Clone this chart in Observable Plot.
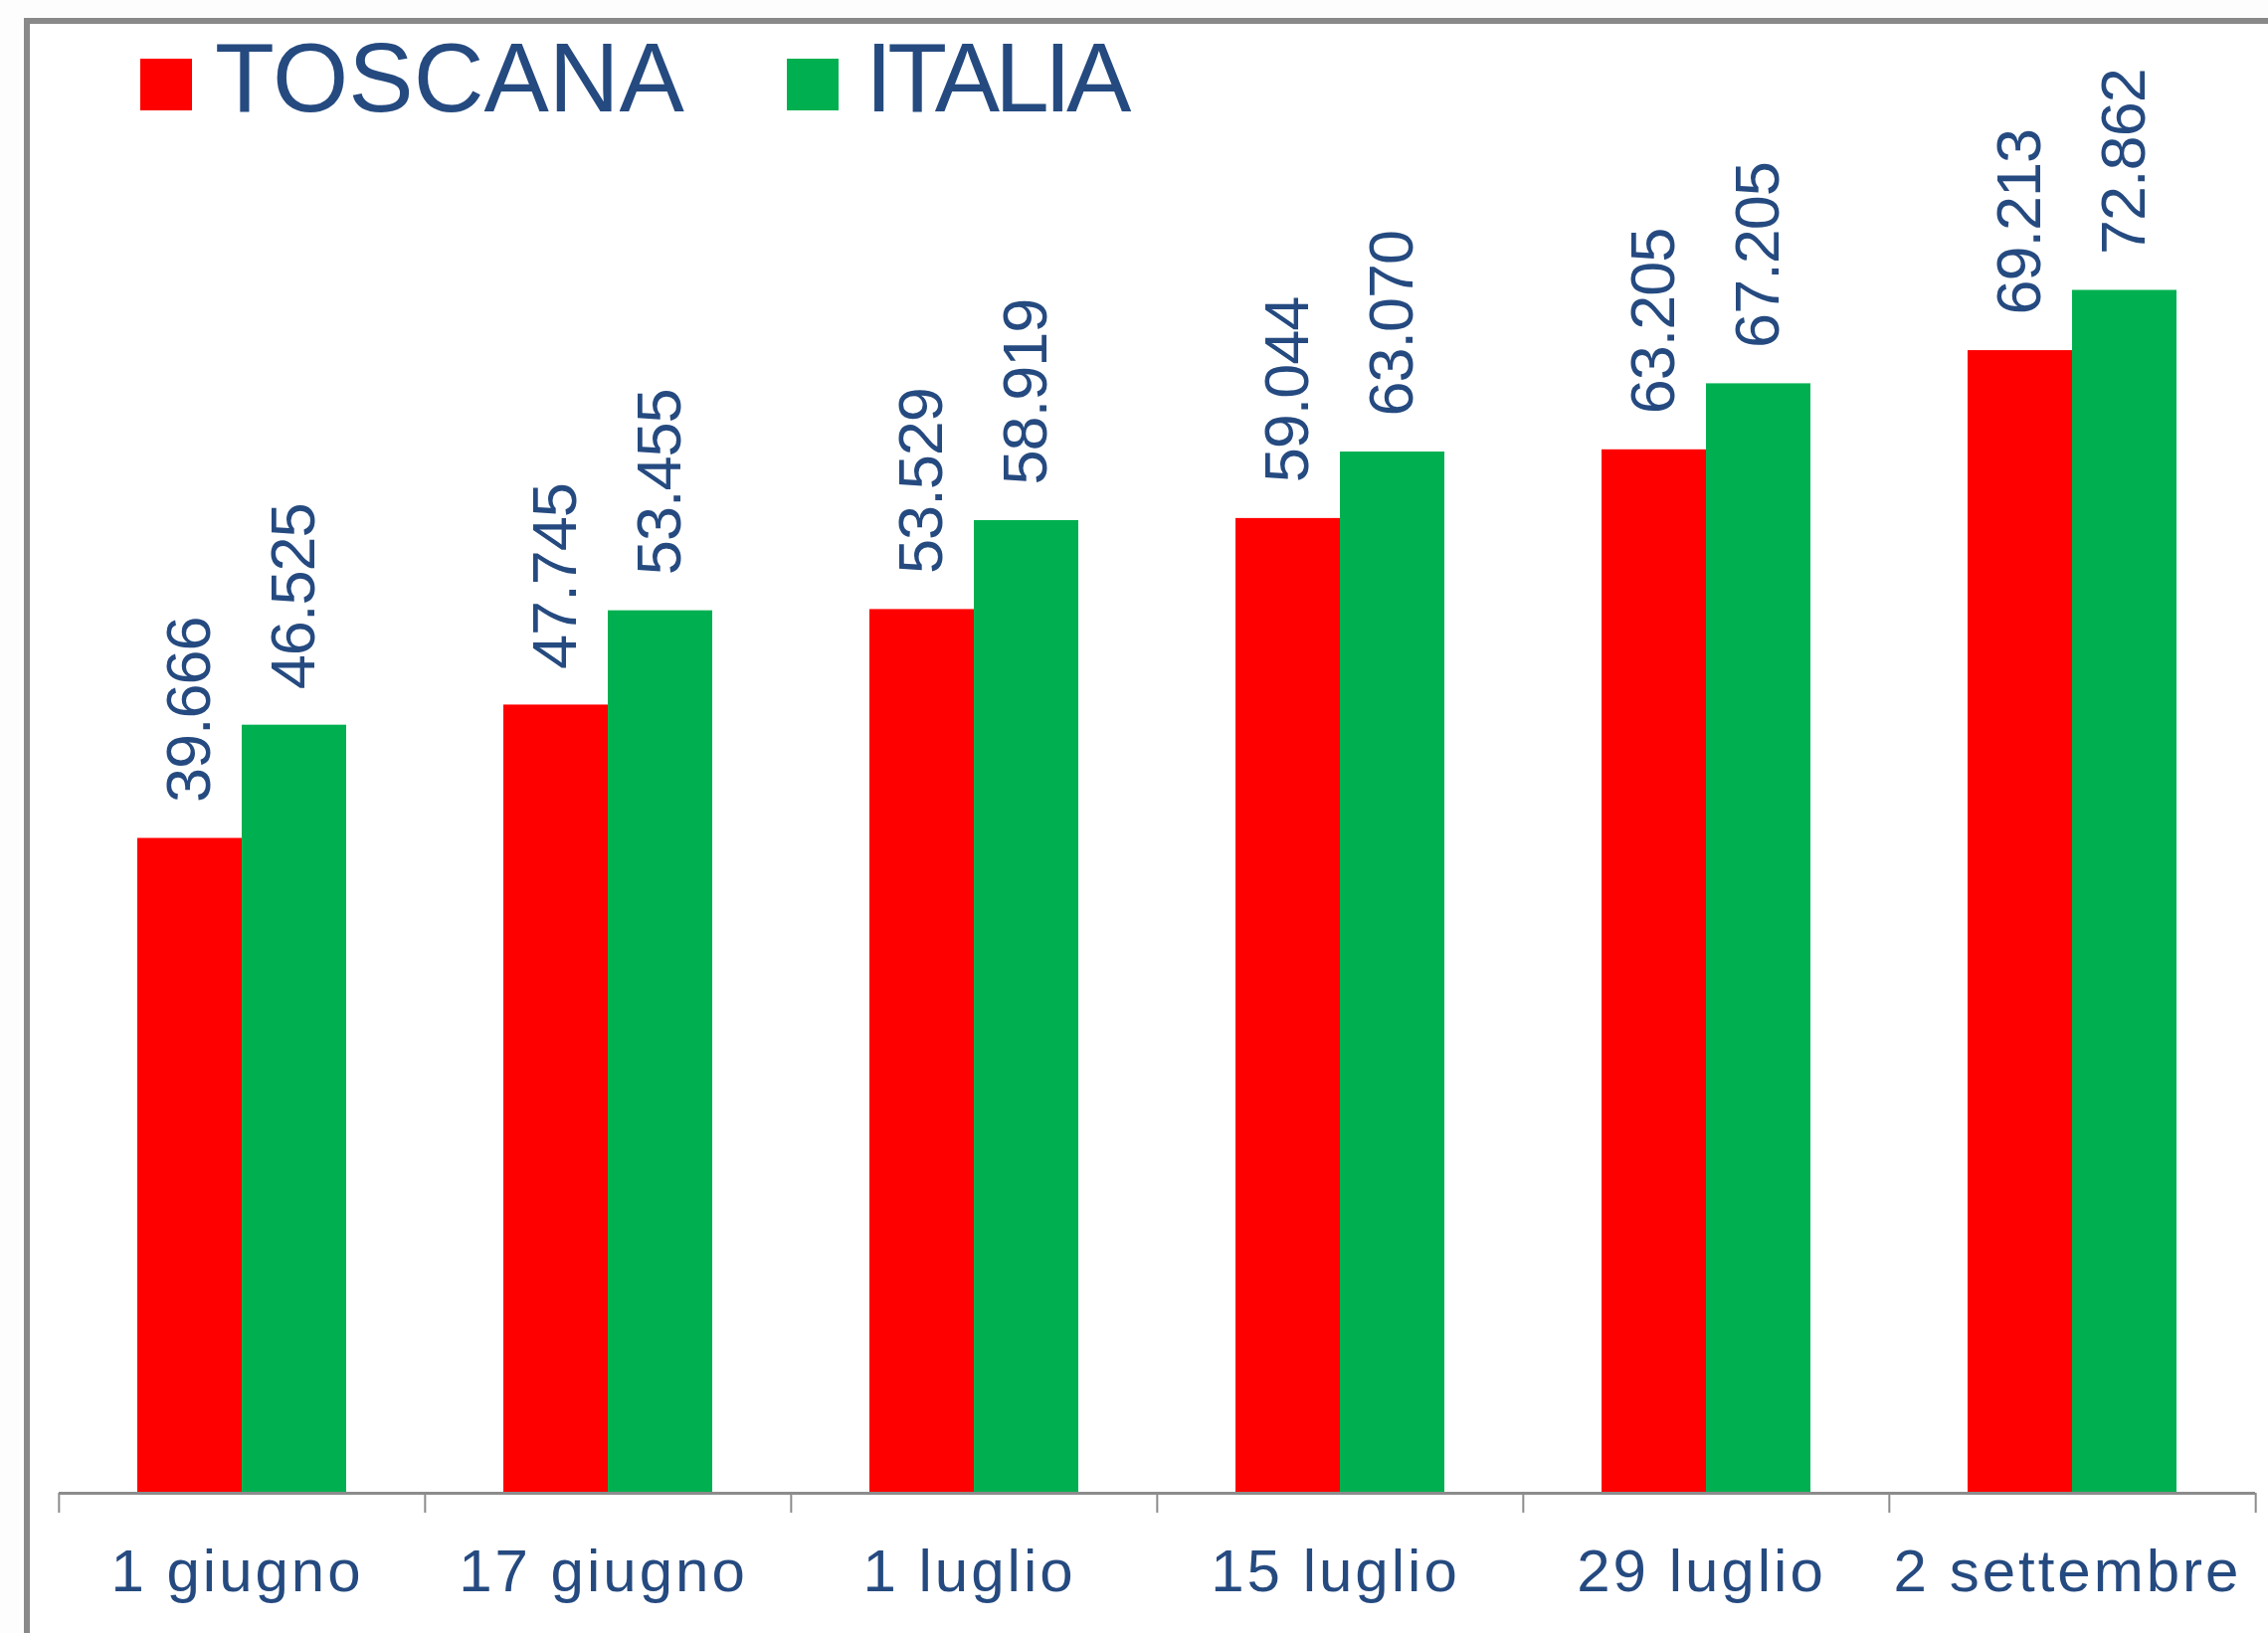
<!DOCTYPE html>
<html>
<head>
<meta charset="utf-8">
<script src="https://cdn.jsdelivr.net/npm/d3@7"></script>
<script src="https://cdn.jsdelivr.net/npm/@observablehq/plot@0.6"></script>
<style>
  html, body { margin: 0; padding: 0; background: #fdfdfd; }
  body { position: relative; width: 2280px; height: 1642px; overflow: hidden; font-family: "Liberation Sans", Arial, sans-serif; }
  #frame { position: absolute; left: 24px; top: 18px; width: 2400px; height: 1800px; border-left: 6px solid #898989; border-top: 6px solid #898989; background: #ffffff; }
  #chart { position: absolute; left: 0; top: 0; }
  #legend { position: absolute; left: 0; top: 0; width: 2280px; height: 130px; }
  .sw { position: absolute; top: 59px; width: 52px; height: 52px; }
  .lt { position: absolute; top: 29px; font-size: 98px; line-height: 98px; color: #254a80; white-space: nowrap; }
  g[aria-label="fx-axis tick label"] text { letter-spacing: 3px; }
</style>
</head>
<body>
<div id="frame"></div>
<div id="chart"></div>
<div id="legend"></div>
<script>
const dates = ["1 giugno", "17 giugno", "1 luglio", "15 luglio", "29 luglio", "2 settembre"];
const series = ["TOSCANA", "ITALIA"];
const seriesColors = ["#ff0000", "#00b050"];
const toscana = [39666, 47745, 53529, 59044, 63205, 69213];
const italia = [46525, 53455, 58919, 63070, 67205, 72862];

const data = dates.flatMap((d, i) => [
  {date: d, serie: series[0], value: toscana[i]},
  {date: d, serie: series[1], value: italia[i]}
]);

const locale = d3.formatLocale({decimal: ",", thousands: ".", grouping: [3], currency: ["", "€"]});
const fmt = locale.format(",d");

const W = 2280, H = 1642, ML = 58, MR = 12, MT = 7, MB = 141;
const step = (W - ML - MR) / dates.length;
const textColor = "#254a80";
const axisColor = "#8c8c8c";

const chart = Plot.plot({
  width: W, height: H,
  marginLeft: ML, marginRight: MR, marginTop: MT, marginBottom: MB,
  style: {fontFamily: "Liberation Sans, Arial, sans-serif", background: "transparent", overflow: "visible"},
  fx: {domain: dates, padding: 0, label: null},
  x: {domain: series, paddingInner: 0, paddingOuter: 0.75, axis: null},
  y: {domain: [0, 90000], axis: null},
  color: {domain: series, range: seriesColors},
  marks: [
    Plot.barY(data, {fx: "date", x: "serie", y: "value", fill: "serie"}),
    Plot.text(data, {
      fx: "date", x: "serie", y: "value", text: d => fmt(d.value),
      rotate: -90, textAnchor: "start", dy: -36,
      fill: textColor, fontSize: 63
    }),
    Plot.ruleY([0], {stroke: axisColor, strokeWidth: 3}),
    Plot.axisFx({anchor: "bottom", tickSize: 20, tickFormat: () => "", dx: -step / 2, stroke: axisColor, strokeWidth: 2, strokeOpacity: 1}),
    Plot.axisFx({anchor: "bottom", ticks: [dates[dates.length - 1]], tickSize: 20, tickFormat: () => "", dx: step / 2, stroke: axisColor, strokeWidth: 2, strokeOpacity: 1}),
    Plot.axisFx({anchor: "bottom", tickSize: 0, tickPadding: 56, fontSize: 60, fill: textColor, dx: -5, label: null})
  ]
});
document.getElementById("chart").appendChild(chart);
d3.select(chart).selectAll("text").filter(function () {
  return this.closest("[aria-label='text']") !== null;
}).style("letter-spacing", "-1px");

// Legend (HTML, above the chart area)
const legend = document.getElementById("legend");
const legendPos = [{sw: 141, tx: 216, ls: "0px"}, {sw: 791, tx: 870, ls: "-5px"}];
series.forEach((s, i) => {
  const sw = document.createElement("div");
  sw.className = "sw";
  sw.style.left = legendPos[i].sw + "px";
  sw.style.background = seriesColors[i];
  legend.appendChild(sw);
  const t = document.createElement("div");
  t.className = "lt";
  t.style.left = legendPos[i].tx + "px";
  t.style.letterSpacing = legendPos[i].ls;
  t.textContent = s;
  legend.appendChild(t);
});
</script>
</body>
</html>
